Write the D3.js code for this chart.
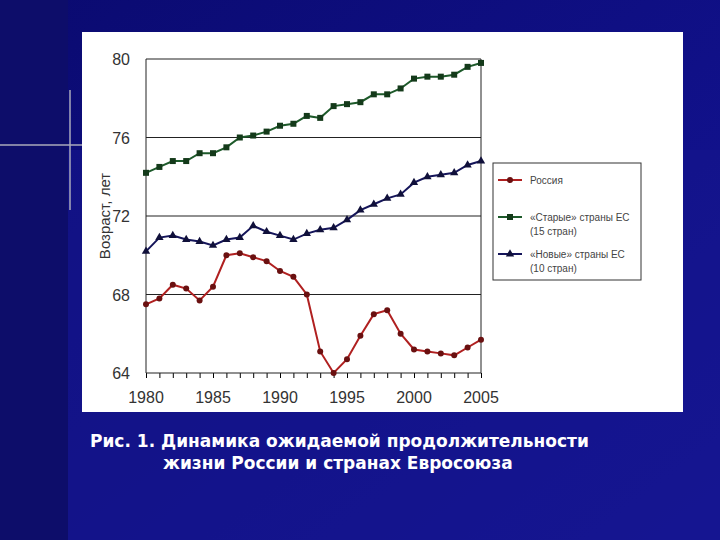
<!DOCTYPE html><html><head><meta charset="utf-8"><script src="https://cdn.jsdelivr.net/npm/d3@7"></script>
<style>body{margin:0;}svg{display:block}</style></head><body><svg id="c" width="720" height="540"></svg>
<script>
const years=d3.range(1980,2006);
const russia=[67.5,67.8,68.5,68.3,67.7,68.4,70.0,70.1,69.9,69.7,69.2,68.9,68.0,65.1,64.0,64.7,65.9,67.0,67.2,66.0,65.2,65.1,65.0,64.9,65.3,65.7];
const oldEU=[74.2,74.5,74.8,74.8,75.2,75.2,75.5,76.0,76.1,76.3,76.6,76.7,77.1,77.0,77.6,77.7,77.8,78.2,78.2,78.5,79.0,79.1,79.1,79.2,79.6,79.8];
const newEU=[70.2,70.9,71.0,70.8,70.7,70.5,70.8,70.9,71.5,71.2,71.0,70.8,71.1,71.3,71.4,71.8,72.3,72.6,72.9,73.1,73.7,74.0,74.1,74.2,74.6,74.8];
const yTicks=[64,68,72,76,80];
const xTicks=[1980,1985,1990,1995,2000,2005];
const series=[{name:"Россия",v:russia,c:"#b02020",m:"circle"},{name:"«Старые» страны ЕС",sub:"(15 стран)",v:oldEU,c:"#1d5a2a",m:"square"},{name:"«Новые» страны ЕС",sub:"(10 стран)",v:newEU,c:"#15155a",m:"triangle"}];
const svg=d3.select("#c");
const g0=svg.append("defs").append("linearGradient").attr("id","bg").attr("x1",0).attr("y1",0).attr("x2",1).attr("y2",1);
g0.append("stop").attr("offset",0).attr("stop-color","#0a0a70");g0.append("stop").attr("offset",1).attr("stop-color","#15159a");
svg.append("rect").attr("width",720).attr("height",540).attr("fill","url(#bg)");
svg.append("rect").attr("x",0).attr("y",0).attr("width",68).attr("height",540).attr("fill","#0d0d6a");
svg.append("rect").attr("x",68).attr("y",150).attr("width",652).attr("height",390).attr("fill","#16168c").attr("opacity",0.6);
svg.append("line").attr("x1",0).attr("x2",100).attr("y1",145).attr("y2",145).attr("stroke","#aab").attr("stroke-width",1.5);
svg.append("line").attr("x1",70).attr("x2",70).attr("y1",90).attr("y2",210).attr("stroke","#aab").attr("stroke-width",1.5);
svg.append("rect").attr("x",82).attr("y",32).attr("width",601).attr("height",380).attr("fill","#fff");
const x=d3.scaleLinear().domain([1980,2005]).range([146,481]);
const y=d3.scaleLinear().domain([64,80]).range([373,59]);
const p=svg.append("g");
p.append("g").attr("transform","translate(0,373)").call(d3.axisBottom(x).tickValues(years).tickFormat("").tickSize(5)).call(a=>a.select(".domain").remove());
p.selectAll(".gl").data(yTicks).join("line").attr("x1",146).attr("x2",481).attr("y1",d=>y(d)).attr("y2",d=>y(d)).attr("stroke","#222").attr("stroke-width",1.2);
p.append("line").attr("x1",146).attr("x2",146).attr("y1",59).attr("y2",373).attr("stroke","#222");
p.append("line").attr("x1",481).attr("x2",481).attr("y1",59).attr("y2",373).attr("stroke","#222");
p.selectAll(".yl").data(yTicks).join("text").attr("x",130).attr("y",d=>y(d)+6).attr("text-anchor","end").attr("font-family","Liberation Sans Narrow, Arial").attr("font-size",16).attr("fill","#333").text(d=>d);
p.selectAll(".xl").data(xTicks).join("text").attr("x",d=>x(d)).attr("y",403).attr("text-anchor","middle").attr("font-family","Liberation Sans Narrow, Arial").attr("font-size",16).attr("fill","#333").text(d=>d);
p.append("text").attr("transform","translate(110,216) rotate(-90)").attr("text-anchor","middle").attr("font-family","Liberation Sans, Arial").attr("font-size",15).attr("fill","#333").text("Возраст, лет");
const line=d3.line().x((d,i)=>x(years[i])).y(d=>y(d));
function marker(sel,m,c){
 if(m==="circle")sel.append("circle").attr("r",3).attr("fill","#6a1010");
 else if(m==="square")sel.append("rect").attr("x",-3).attr("y",-3).attr("width",6).attr("height",6).attr("fill","#143a1a");
 else sel.append("path").attr("d",d3.symbol(d3.symbolTriangle,30)()).attr("fill","#10103a");
}
series.forEach(s=>{
 p.append("path").attr("d",line(s.v)).attr("fill","none").attr("stroke",s.c).attr("stroke-width",2);
 s.v.forEach((v,i)=>{const gg=p.append("g").attr("transform",`translate(${x(years[i])},${y(v)})`);marker(gg,s.m,s.c);});
});
const lg=svg.append("g");
lg.append("rect").attr("x",493).attr("y",163).attr("width",148).attr("height",117).attr("fill","#fff").attr("stroke","#333");
series.forEach((s,i)=>{
 const yy=180+i*37;
 lg.append("line").attr("x1",498).attr("x2",522).attr("y1",yy).attr("y2",yy).attr("stroke",s.c).attr("stroke-width",2);
 marker(lg.append("g").attr("transform",`translate(510,${yy})`),s.m,s.c);
 lg.append("text").attr("x",530).attr("y",yy+4).attr("font-family","Liberation Sans Narrow, Arial").attr("font-size",10).attr("fill","#444").text(s.name);
 if(s.sub)lg.append("text").attr("x",530).attr("y",yy+18).attr("font-family","Liberation Sans Narrow, Arial").attr("font-size",10).attr("fill","#444").text(s.sub);
});
const cap=svg.append("g").attr("font-family","DejaVu Sans, Verdana").attr("font-weight","bold").attr("font-size",17).attr("fill","#fff");
cap.append("text").attr("x",90).attr("y",447).text("Рис. 1. Динамика ожидаемой продолжительности");
cap.append("text").attr("x",163).attr("y",469).text("жизни России и странах Евросоюза");
</script></body></html>
